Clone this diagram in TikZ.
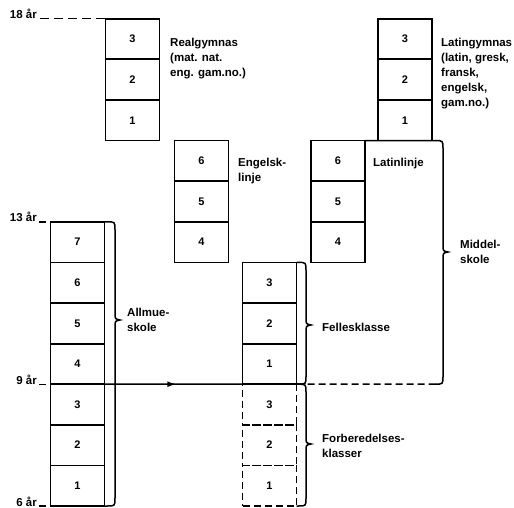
\documentclass[tikz,border=0pt]{standalone}
\usepackage{fontspec}
\setmainfont{Liberation Sans}
\usetikzlibrary{arrows.meta,positioning,decorations.markings}
% curly bracket on the right side of a column
% #1 top start x, #2 bottom end x, #3 spine x, #4 top y, #5 tip y, #6 bottom y
\newcommand{\sidebrace}[6]{%
  \draw[brc] (#1,#4) -- (#3-8,#4) .. controls (#3,#4) .. (#3,#4+8)
    -- (#3,#5-7) .. controls (#3,#5-1) .. (#3+5,#5)
    .. controls (#3,#5+1) .. (#3,#5+7)
    -- (#3,#6-8) .. controls (#3,#6) .. (#3-8,#6) -- (#2,#6);}
\tikzset{
  cell/.style={draw,line width=1.8pt,outer sep=0pt,inner sep=0pt,
               minimum width=54pt,minimum height=40.6pt,
               font=\fontsize{11}{12}\selectfont\bfseries},
  prepcell/.style={cell,line width=1.4pt,dash pattern=on 7pt off 4pt},
  lbl/.style={anchor=north west,inner sep=0pt,align=left,
              font=\fontsize{11.5}{15}\selectfont\bfseries},
  age/.style={anchor=base east,inner sep=0pt,
              font=\fontsize{11.5}{13}\selectfont\bfseries},
  tick/.style={line width=1.4pt},
  brc/.style={line width=1.5pt},
  flow/.style={line width=1.5pt,postaction={decorate},
               decoration={markings,mark=at position .52 with
                 {\arrow{Latex[length=9pt,width=6pt]}}}},
}
\begin{document}
\begin{tikzpicture}[x=1pt,y=-1pt]
  \useasboundingbox (0,0) rectangle (514,508);
  % preparatory classes (dashed)
  \node[prepcell] (prep3) at (269.5,404.5) {3};
  \node[prepcell,below=0pt of prep3] (prep2) {2};
  \node[prepcell,below=0pt of prep2] (prep1) {1};
  % common classes
  \node[cell] (fell3) at (269.5,282.7) {3};
  \node[cell,below=0pt of fell3] (fell2) {2};
  \node[cell,below=0pt of fell2] (fell1) {1};
  % elementary school
  \node[cell] (allm7) at (77.5,242.1) {7};
  \node[cell,below=0pt of allm7] (allm6) {6};
  \node[cell,below=0pt of allm6] (allm5) {5};
  \node[cell,below=0pt of allm5] (allm4) {4};
  \node[cell,below=0pt of allm4] (allm3) {3};
  \node[cell,below=0pt of allm3] (allm2) {2};
  \node[cell,below=0pt of allm2] (allm1) {1};
  % middle school lines
  \node[cell] (eng6) at (201.5,160.9) {6};
  \node[cell,below=0pt of eng6] (eng5) {5};
  \node[cell,below=0pt of eng5] (eng4) {4};
  \node[cell] (latl6) at (338,160.9) {6};
  \node[cell,below=0pt of latl6] (latl5) {5};
  \node[cell,below=0pt of latl5] (latl4) {4};
  % gymnasium
  \node[cell] (real3) at (132.5,39.1) {3};
  \node[cell,below=0pt of real3] (real2) {2};
  \node[cell,below=0pt of real2] (real1) {1};
  \node[cell] (latg3) at (405,39.1) {3};
  \node[cell,below=0pt of latg3] (latg2) {2};
  \node[cell,below=0pt of latg2] (latg1) {1};
  % labels
  \node[lbl] (reallbl) at (170,38.3) {Realgymnas\\(mat. nat.\\eng. gam.no.)};
  \node[lbl] (latglbl) at (441,38.3)
    {Latingymnas\\(latin, gresk,\\fransk,\\engelsk,\\gam.no.)};
  \node[lbl] (englbl) at (238,157.6) {Engelsk-\\linje};
  \node[lbl] (latllbl) at (373,157.6) {Latinlinje};
  \node[lbl] (allmlbl) at (127,307.6) {Allmue-\\skole};
  \node[lbl] (felllbl) at (322,323.3) {Fellesklasse};
  \node[lbl] (preplbl) at (322,434.3) {Forberedelses-\\klasser};
  \node[lbl] (mdllbl) at (460,239.6) {Middel-\\skole};
  % ages
  \node[age] (a18) at (37,18.8) {18 år};
  \node[age] (a13) at (37,221.8) {13 år};
  \node[age] (a9) at (37,384.2) {9 år};
  \node[age] (a6) at (37,506) {6 år};
  \draw[tick,dash pattern=on 9pt off 5pt] ([xshift=3pt]a18.base east) -- (real3.north west);
  \draw[tick] ([xshift=2pt]a13.base east) -- ([xshift=9pt]a13.base east);
  \draw[tick] ([xshift=2pt]a9.base east) -- ([xshift=9pt]a9.base east);
  \draw[tick] ([xshift=2pt]a6.base east) -- ([xshift=9pt]a6.base east);
  % transfer after 3 years
  \draw[flow] (allm3.north east) -- (fell1.south west);
  % brackets
  \sidebrace{104.5}{104.5}{115}{221.8}{320}{506}
  \sidebrace{296.5}{296.5}{306}{262.4}{325}{384.2}
  \sidebrace{296.5}{296.5}{306}{384.2}{444}{506}
  \sidebrace{365}{435}{443}{140.6}{252}{384.2}
  \coordinate (mdlend) at (435,384.2);
  \draw[brc,dash pattern=on 7pt off 4pt] (fell1.south east) -- (mdlend);
\end{tikzpicture}
\end{document}
